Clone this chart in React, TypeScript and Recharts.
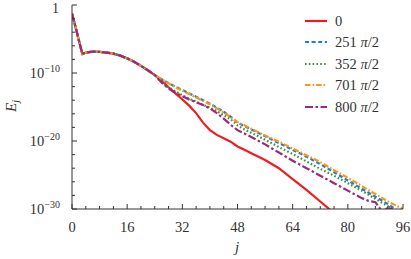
import React from 'react';
import { LineChart, Line, XAxis, YAxis } from 'recharts';

const J = [0,1,2,3,4,6,8,10,12,14,16,18,20,22,24,26,28,30,32,34,36,38,40,42,44,46,48,50,52,56,60,64,68,72,76,80,84,86,88,90,92,94,96];

// log10(E_j), shared start (j = 0..24)
const COMMON = [-1.3,-3.2,-5.2,-7.2,-7.0,-6.85,-6.9,-7.0,-7.15,-7.45,-7.85,-8.35,-8.95,-9.6,-10.3];

// log10(E_j) from j = 26 onward
const S0 = [-11.1,-12.1,-13.0,-13.9,-14.8,-15.9,-17.3,-18.4,-19.1,-19.6,-20.1,-20.8,-21.3,-21.8,-22.8,-24.0,-25.6,-27.2,-28.9,-30.6,-32.3,null,null,null,null,null,null,null];
const S251 = [-10.9,-11.5,-12.0,-12.5,-13.0,-13.5,-14.0,-14.5,-15.1,-15.7,-16.4,-17.3,-17.8,-18.3,-19.3,-20.3,-21.3,-22.3,-23.4,-24.6,-25.8,-27.0,-27.6,-28.2,-28.8,-29.4,-30.1,-30.5];
const S352 = [-11.4,-12.1,-12.7,-13.3,-13.8,-14.2,-14.7,-15.1,-15.6,-16.2,-16.8,-17.7,-18.3,-18.8,-19.8,-20.9,-21.9,-23.0,-24.1,-25.1,-26.2,-27.3,-27.9,-28.5,-29.1,-29.7,-30.3,-30.8];
const S701 = [-10.9,-11.5,-12.1,-12.6,-13.1,-13.6,-14.1,-14.6,-15.2,-15.8,-16.5,-17.2,-17.7,-18.2,-19.2,-20.1,-21.1,-22.1,-23.1,-24.3,-25.4,-26.6,-27.2,-27.8,-28.4,-29.0,-29.5,-30.0];
const S800 = [-11.4,-12.3,-12.9,-13.4,-13.9,-14.3,-14.7,-15.2,-15.9,-16.7,-17.6,-18.4,-18.9,-19.4,-20.5,-21.7,-22.9,-24.0,-25.1,-26.2,-27.3,-28.4,-28.8,-29.0,-30.4,-29.7,-30.5,-30.5];

const X_TICKS = [0,4,8,12,16,20,24,28,32,36,40,44,48,52,56,60,64,68,72,76,80,84,88,92,96];
const Y_EXP_TICKS = [0,-2,-4,-6,-8,-10,-12,-14,-16,-18,-20,-22,-24,-26,-28,-30];
const Y_TICKS = Y_EXP_TICKS.map((e) => Math.pow(10, e));

const SERIES = [
  { key: 's0', num: '0', pi: false, vals: S0, color: '#ee1d24', dash: undefined, w: 2.2 },
  { key: 's251', num: '251', pi: true, vals: S251, color: '#1f7fcf', dash: '4 2.6', w: 2.2 },
  { key: 's352', num: '352', pi: true, vals: S352, color: '#3f9234', dash: '1.6 2.2', w: 2.2 },
  { key: 's701', num: '701', pi: true, vals: S701, color: '#ff9518', dash: '5.5 2 1.6 2', w: 2.2 },
  { key: 's800', num: '800', pi: true, vals: S800, color: '#a3267c', dash: '8 2.5 2.5 2.5', w: 2.2 },
];

const data = J.map((j, i) => {
  const row: any = { j };
  SERIES.forEach((s) => {
    const v = i < COMMON.length ? COMMON[i] : s.vals[i - COMMON.length];
    row[s.key] = v === null || v === undefined ? null : Math.pow(10, v);
  });
  return row;
});

const FONT = "'Liberation Serif', 'DejaVu Serif', serif";
const AX = '#333333';

const BottomTick = (props: any) => {
  const { x, y, payload } = props;
  const major = payload.value % 16 === 0;
  return (
    <g>
      <line x1={x} y1={y} x2={x} y2={y - (major ? 5 : 3)} stroke={AX} strokeWidth={1} />
      {major && (
        <text x={x} y={y + 23} textAnchor="middle" style={{ fontFamily: FONT }} fontSize={14.5} fill="#333">
          {payload.value}
        </text>
      )}
    </g>
  );
};

const TopTick = (props: any) => {
  const { x, y, payload } = props;
  const major = payload.value % 16 === 0;
  return <line x1={x} y1={y} x2={x} y2={y + (major ? 5 : 3)} stroke={AX} strokeWidth={1} />;
};

const expOf = (v: number) => Math.round(Math.log10(v));

const LeftTick = (props: any) => {
  const { x, y, payload } = props;
  const e = expOf(payload.value);
  const major = e % 10 === 0;
  return (
    <g>
      <line x1={x} y1={y} x2={x + (major ? 5 : 3)} y2={y} stroke={AX} strokeWidth={1} />
      {major && (
        e === 0 ? (
          <text x={x - 13} y={y + 8} textAnchor="end" style={{ fontFamily: FONT }} fontSize={14} fill="#333">1</text>
        ) : (
          <text x={x - 12} y={y + 5} textAnchor="end" style={{ fontFamily: FONT }} fontSize={14.5} fill="#333">
            10<tspan fontSize={10} dy={-6}>{'\u2212' + Math.abs(e)}</tspan>
          </text>
        )
      )}
    </g>
  );
};

const RightTick = (props: any) => {
  const { x, y, payload } = props;
  const e = expOf(payload.value);
  const major = e % 10 === 0;
  return <line x1={x} y1={y} x2={x - (major ? 5 : 3)} y2={y} stroke={AX} strokeWidth={1} />;
};

const LegendBox = () => (
  <div style={{ position: 'absolute', left: 303, top: 10, fontFamily: FONT, fontSize: 14.5, color: '#333' }}>
    {SERIES.map((s) => (
      <div key={s.key} style={{ display: 'flex', alignItems: 'center', height: 21.5 }}>
        <svg width={30} height={10} style={{ display: 'block' }}>
          <line x1={2} y1={5} x2={24} y2={5} stroke={s.color} strokeWidth={s.w} strokeDasharray={s.dash} />
        </svg>
        <span style={{ marginLeft: 2, lineHeight: '14px', whiteSpace: 'nowrap' }}>
          {s.num}
          {s.pi && (
            <>
              {' '}
              <i>π</i>/2
            </>
          )}
        </span>
      </div>
    ))}
  </div>
);

export default function App() {
  return (
    <div style={{ position: 'absolute', left: 0, top: 0, width: 411, height: 259, background: '#fff' }}>
      <LineChart width={411} height={259} data={data} margin={{ top: 5, right: 8, left: 0, bottom: 0 }}>
        <XAxis
          xAxisId="b"
          dataKey="j"
          type="number"
          domain={[0, 96]}
          ticks={X_TICKS}
          interval={0}
          height={50}
          tickSize={0}
          tickMargin={0}
          stroke={AX}
          tick={<BottomTick />}
          allowDataOverflow
        />
        <XAxis
          xAxisId="t"
          orientation="top"
          dataKey="j"
          type="number"
          domain={[0, 96]}
          ticks={X_TICKS}
          interval={0}
          height={0}
          tickSize={0}
          tickMargin={0}
          stroke={AX}
          tick={<TopTick />}
        />
        <YAxis
          yAxisId="l"
          scale="log"
          type="number"
          domain={[1e-30, 1]}
          ticks={Y_TICKS}
          interval={0}
          width={72}
          tickSize={0}
          tickMargin={0}
          stroke={AX}
          tick={<LeftTick />}
          allowDataOverflow
        />
        <YAxis
          yAxisId="r"
          orientation="right"
          scale="log"
          type="number"
          domain={[1e-30, 1]}
          ticks={Y_TICKS}
          interval={0}
          width={0}
          tickSize={0}
          tickMargin={0}
          stroke={AX}
          tick={<RightTick />}
          allowDataOverflow
        />
        {SERIES.map((s) => (
          <Line
            key={s.key}
            xAxisId="b"
            yAxisId="l"
            type="linear"
            dataKey={s.key}
            name={s.num}
            stroke={s.color}
            strokeWidth={s.w}
            strokeDasharray={s.dash}
            dot={false}
            activeDot={false}
            connectNulls={false}
            isAnimationActive={false}
          />
        ))}
        <text x={237} y={252} textAnchor="middle" style={{ fontFamily: FONT }} fontSize={15} fontStyle="italic" fill="#333">j</text>
        <text transform="translate(16,106) rotate(-90)" textAnchor="middle" style={{ fontFamily: FONT }} fontSize={15} fill="#333">
          <tspan fontStyle="italic">E</tspan>
          <tspan fontStyle="italic" fontSize={10} dy={3}>j</tspan>
        </text>
      </LineChart>
      <LegendBox />
    </div>
  );
}
